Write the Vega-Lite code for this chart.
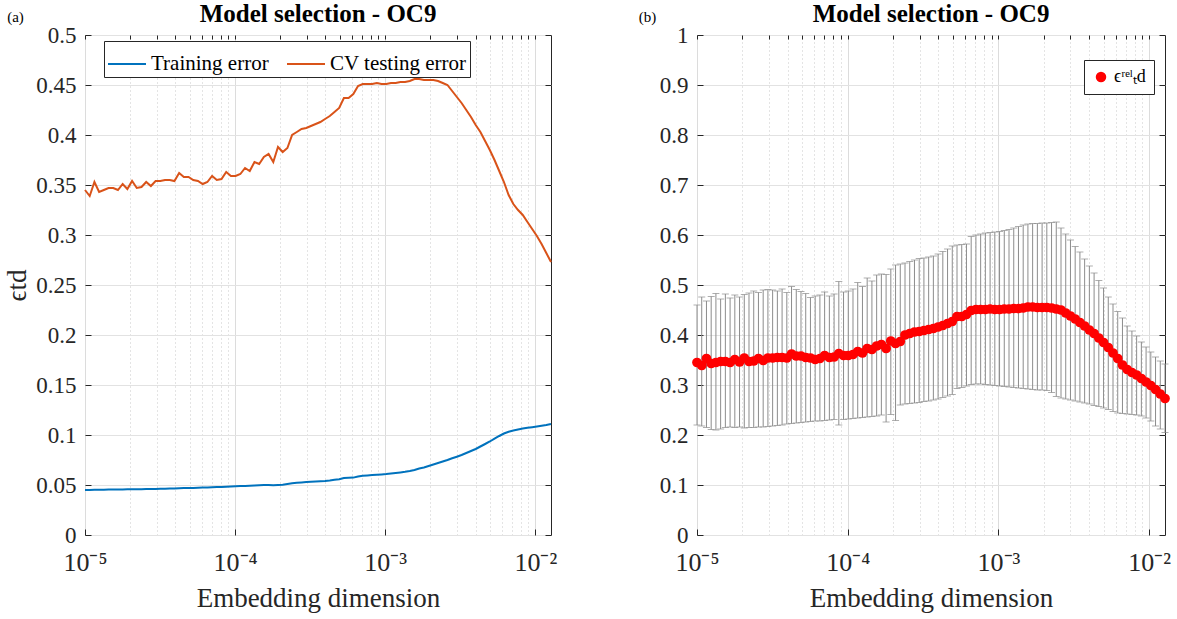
{
  "$schema": "https://vega.github.io/schema/vega-lite/v6.json",
  "padding": {"left": 3, "top": 1, "right": 5, "bottom": 2},
  "datasets": {
    "d": [
      {"x": 1.0000e-5, "train": 0.0450, "cv": 0.345, "lo": 0.220, "hi": 0.460},
      {"x": 1.0749e-5, "train": 0.0451, "cv": 0.339, "lo": 0.218, "hi": 0.476},
      {"x": 1.1554e-5, "train": 0.0452, "cv": 0.353, "lo": 0.215, "hi": 0.468},
      {"x": 1.2419e-5, "train": 0.0453, "cv": 0.343, "lo": 0.211, "hi": 0.477},
      {"x": 1.3349e-5, "train": 0.0453, "cv": 0.345, "lo": 0.210, "hi": 0.483},
      {"x": 1.4348e-5, "train": 0.0454, "cv": 0.347, "lo": 0.212, "hi": 0.472},
      {"x": 1.5423e-5, "train": 0.0455, "cv": 0.347, "lo": 0.215, "hi": 0.482},
      {"x": 1.6577e-5, "train": 0.0455, "cv": 0.345, "lo": 0.216, "hi": 0.474},
      {"x": 1.7818e-5, "train": 0.0456, "cv": 0.351, "lo": 0.215, "hi": 0.480},
      {"x": 1.9153e-5, "train": 0.0457, "cv": 0.346, "lo": 0.216, "hi": 0.476},
      {"x": 2.0587e-5, "train": 0.0457, "cv": 0.354, "lo": 0.214, "hi": 0.481},
      {"x": 2.2128e-5, "train": 0.0458, "cv": 0.347, "lo": 0.215, "hi": 0.484},
      {"x": 2.3785e-5, "train": 0.0458, "cv": 0.348, "lo": 0.215, "hi": 0.488},
      {"x": 2.5566e-5, "train": 0.0459, "cv": 0.353, "lo": 0.216, "hi": 0.485},
      {"x": 2.7480e-5, "train": 0.0460, "cv": 0.349, "lo": 0.216, "hi": 0.490},
      {"x": 2.9538e-5, "train": 0.0461, "cv": 0.354, "lo": 0.217, "hi": 0.491},
      {"x": 3.1750e-5, "train": 0.0462, "cv": 0.354, "lo": 0.218, "hi": 0.490},
      {"x": 3.4127e-5, "train": 0.0463, "cv": 0.355, "lo": 0.219, "hi": 0.488},
      {"x": 3.6682e-5, "train": 0.0465, "cv": 0.355, "lo": 0.220, "hi": 0.492},
      {"x": 3.9429e-5, "train": 0.0466, "cv": 0.354, "lo": 0.222, "hi": 0.485},
      {"x": 4.2381e-5, "train": 0.0467, "cv": 0.362, "lo": 0.223, "hi": 0.497},
      {"x": 4.5554e-5, "train": 0.0469, "cv": 0.358, "lo": 0.224, "hi": 0.491},
      {"x": 4.8965e-5, "train": 0.0470, "cv": 0.358, "lo": 0.225, "hi": 0.487},
      {"x": 5.2632e-5, "train": 0.0471, "cv": 0.355, "lo": 0.226, "hi": 0.483},
      {"x": 5.6573e-5, "train": 0.0473, "cv": 0.354, "lo": 0.227, "hi": 0.475},
      {"x": 6.0810e-5, "train": 0.0475, "cv": 0.351, "lo": 0.228, "hi": 0.478},
      {"x": 6.5363e-5, "train": 0.0476, "cv": 0.353, "lo": 0.228, "hi": 0.480},
      {"x": 7.0258e-5, "train": 0.0477, "cv": 0.359, "lo": 0.229, "hi": 0.486},
      {"x": 7.5519e-5, "train": 0.0479, "cv": 0.355, "lo": 0.230, "hi": 0.478},
      {"x": 8.1174e-5, "train": 0.0481, "cv": 0.356, "lo": 0.231, "hi": 0.482},
      {"x": 8.7253e-5, "train": 0.0483, "cv": 0.363, "lo": 0.220, "hi": 0.507},
      {"x": 9.3786e-5, "train": 0.0485, "cv": 0.359, "lo": 0.231, "hi": 0.486},
      {"x": 1.0081e-4, "train": 0.0487, "cv": 0.359, "lo": 0.232, "hi": 0.488},
      {"x": 1.0836e-4, "train": 0.0489, "cv": 0.361, "lo": 0.233, "hi": 0.492},
      {"x": 1.1648e-4, "train": 0.0491, "cv": 0.367, "lo": 0.234, "hi": 0.505},
      {"x": 1.2520e-4, "train": 0.0493, "cv": 0.364, "lo": 0.235, "hi": 0.497},
      {"x": 1.3458e-4, "train": 0.0495, "cv": 0.373, "lo": 0.236, "hi": 0.514},
      {"x": 1.4465e-4, "train": 0.0497, "cv": 0.371, "lo": 0.237, "hi": 0.508},
      {"x": 1.5549e-4, "train": 0.0499, "cv": 0.378, "lo": 0.238, "hi": 0.520},
      {"x": 1.6713e-4, "train": 0.0501, "cv": 0.381, "lo": 0.240, "hi": 0.522},
      {"x": 1.7965e-4, "train": 0.0497, "cv": 0.373, "lo": 0.226, "hi": 0.521},
      {"x": 1.9310e-4, "train": 0.0500, "cv": 0.388, "lo": 0.241, "hi": 0.532},
      {"x": 2.0756e-4, "train": 0.0503, "cv": 0.383, "lo": 0.229, "hi": 0.540},
      {"x": 2.2310e-4, "train": 0.0510, "cv": 0.387, "lo": 0.260, "hi": 0.542},
      {"x": 2.3981e-4, "train": 0.0518, "cv": 0.400, "lo": 0.262, "hi": 0.544},
      {"x": 2.5777e-4, "train": 0.0522, "cv": 0.403, "lo": 0.263, "hi": 0.547},
      {"x": 2.7707e-4, "train": 0.0526, "cv": 0.406, "lo": 0.264, "hi": 0.550},
      {"x": 2.9782e-4, "train": 0.0529, "cv": 0.407, "lo": 0.265, "hi": 0.553},
      {"x": 3.2012e-4, "train": 0.0532, "cv": 0.409, "lo": 0.267, "hi": 0.554},
      {"x": 3.4409e-4, "train": 0.0534, "cv": 0.411, "lo": 0.268, "hi": 0.556},
      {"x": 3.6983e-4, "train": 0.0537, "cv": 0.413, "lo": 0.270, "hi": 0.558},
      {"x": 3.9753e-4, "train": 0.0540, "cv": 0.416, "lo": 0.272, "hi": 0.562},
      {"x": 4.2730e-4, "train": 0.0545, "cv": 0.419, "lo": 0.275, "hi": 0.567},
      {"x": 4.5929e-4, "train": 0.0552, "cv": 0.423, "lo": 0.278, "hi": 0.572},
      {"x": 4.9369e-4, "train": 0.0558, "cv": 0.427, "lo": 0.281, "hi": 0.578},
      {"x": 5.3066e-4, "train": 0.0570, "cv": 0.437, "lo": 0.293, "hi": 0.580},
      {"x": 5.7039e-4, "train": 0.0572, "cv": 0.437, "lo": 0.295, "hi": 0.581},
      {"x": 6.1311e-4, "train": 0.0574, "cv": 0.441, "lo": 0.298, "hi": 0.582},
      {"x": 6.5902e-4, "train": 0.0585, "cv": 0.449, "lo": 0.301, "hi": 0.597},
      {"x": 7.0837e-4, "train": 0.0592, "cv": 0.451, "lo": 0.302, "hi": 0.600},
      {"x": 7.6143e-4, "train": 0.0596, "cv": 0.451, "lo": 0.302, "hi": 0.602},
      {"x": 8.1844e-4, "train": 0.0600, "cv": 0.451, "lo": 0.301, "hi": 0.604},
      {"x": 8.7973e-4, "train": 0.0603, "cv": 0.452, "lo": 0.300, "hi": 0.605},
      {"x": 9.4561e-4, "train": 0.0606, "cv": 0.451, "lo": 0.299, "hi": 0.606},
      {"x": 1.0164e-3, "train": 0.0610, "cv": 0.451, "lo": 0.298, "hi": 0.607},
      {"x": 1.0925e-3, "train": 0.0616, "cv": 0.452, "lo": 0.297, "hi": 0.609},
      {"x": 1.1743e-3, "train": 0.0621, "cv": 0.452, "lo": 0.296, "hi": 0.611},
      {"x": 1.2623e-3, "train": 0.0626, "cv": 0.453, "lo": 0.295, "hi": 0.614},
      {"x": 1.3568e-3, "train": 0.0632, "cv": 0.453, "lo": 0.294, "hi": 0.617},
      {"x": 1.4584e-3, "train": 0.0640, "cv": 0.454, "lo": 0.293, "hi": 0.620},
      {"x": 1.5675e-3, "train": 0.0650, "cv": 0.456, "lo": 0.292, "hi": 0.622},
      {"x": 1.6849e-3, "train": 0.0665, "cv": 0.456, "lo": 0.291, "hi": 0.623},
      {"x": 1.8111e-3, "train": 0.0675, "cv": 0.455, "lo": 0.290, "hi": 0.623},
      {"x": 1.9467e-3, "train": 0.0690, "cv": 0.455, "lo": 0.290, "hi": 0.624},
      {"x": 2.0925e-3, "train": 0.0705, "cv": 0.455, "lo": 0.289, "hi": 0.624},
      {"x": 2.2492e-3, "train": 0.0720, "cv": 0.454, "lo": 0.285, "hi": 0.625},
      {"x": 2.4176e-3, "train": 0.0735, "cv": 0.452, "lo": 0.277, "hi": 0.626},
      {"x": 2.5986e-3, "train": 0.0750, "cv": 0.450, "lo": 0.274, "hi": 0.614},
      {"x": 2.7932e-3, "train": 0.0767, "cv": 0.444, "lo": 0.272, "hi": 0.602},
      {"x": 3.0024e-3, "train": 0.0783, "cv": 0.438, "lo": 0.270, "hi": 0.590},
      {"x": 3.2271e-3, "train": 0.0800, "cv": 0.432, "lo": 0.268, "hi": 0.577},
      {"x": 3.4688e-3, "train": 0.0820, "cv": 0.425, "lo": 0.266, "hi": 0.566},
      {"x": 3.7285e-3, "train": 0.0840, "cv": 0.418, "lo": 0.264, "hi": 0.552},
      {"x": 4.0077e-3, "train": 0.0860, "cv": 0.410, "lo": 0.262, "hi": 0.538},
      {"x": 4.3078e-3, "train": 0.0885, "cv": 0.403, "lo": 0.259, "hi": 0.524},
      {"x": 4.6304e-3, "train": 0.0910, "cv": 0.394, "lo": 0.257, "hi": 0.509},
      {"x": 4.9771e-3, "train": 0.0935, "cv": 0.385, "lo": 0.254, "hi": 0.494},
      {"x": 5.3498e-3, "train": 0.0963, "cv": 0.375, "lo": 0.251, "hi": 0.476},
      {"x": 5.7504e-3, "train": 0.0990, "cv": 0.364, "lo": 0.247, "hi": 0.462},
      {"x": 6.1810e-3, "train": 0.1015, "cv": 0.353, "lo": 0.244, "hi": 0.447},
      {"x": 6.6432e-3, "train": 0.1033, "cv": 0.340, "lo": 0.243, "hi": 0.434},
      {"x": 7.1407e-3, "train": 0.1045, "cv": 0.331, "lo": 0.242, "hi": 0.418},
      {"x": 7.6754e-3, "train": 0.1055, "cv": 0.325, "lo": 0.241, "hi": 0.408},
      {"x": 8.2502e-3, "train": 0.1065, "cv": 0.320, "lo": 0.240, "hi": 0.398},
      {"x": 8.8680e-3, "train": 0.1072, "cv": 0.313, "lo": 0.238, "hi": 0.386},
      {"x": 9.5320e-3, "train": 0.1078, "cv": 0.306, "lo": 0.234, "hi": 0.376},
      {"x": 1.0246e-2, "train": 0.1085, "cv": 0.299, "lo": 0.228, "hi": 0.366},
      {"x": 1.1013e-2, "train": 0.1093, "cv": 0.291, "lo": 0.218, "hi": 0.356},
      {"x": 1.1838e-2, "train": 0.1100, "cv": 0.282, "lo": 0.212, "hi": 0.348},
      {"x": 1.2724e-2, "train": 0.1110, "cv": 0.273, "lo": 0.205, "hi": 0.342}
    ]
  },
  "config": {
    "font": "Liberation Serif",
    "view": {"stroke": "#262626", "strokeWidth": 1},
    "axis": {
      "labelFont": "Liberation Serif",
      "titleFont": "Liberation Serif",
      "labelColor": "#262626",
      "titleColor": "#262626",
      "tickColor": "#262626",
      "domain": false,
      "labelFontSize": 23,
      "titleFontSize": 27,
      "titleFontWeight": "normal",
      "gridColor": "#e2e2e2",
      "gridWidth": 1
    },
    "title": {"font": "Liberation Serif", "fontSize": 25, "fontWeight": "bold", "color": "#000000", "offset": -18},
    "legend": {"labelFont": "Liberation Serif", "labelColor": "#000000"}
  },
  "spacing": 146,
  "bounds": "flush",
  "resolve": {"scale": {"color": "independent"}, "legend": {"color": "independent"}},
  "hconcat": [
    {
      "width": 466,
      "height": 500,
      "title": "Model selection - OC9",
      "data": {"name": "d"},
      "layer": [
        {
          "mark": {"type": "line", "opacity": 0},
          "encoding": {
            "x": {
              "field": "x", "type": "quantitative",
              "scale": {"type": "log", "domain": [0.00001, 0.012724], "nice": false},
              "axis": {
                "orient": "top", "title": null, "labels": false,
                "values": [0.00001, 0.00002, 0.00003, 0.00004, 0.00005, 0.00006, 0.00007, 0.00008, 0.00009, 0.0001, 0.0002, 0.0003, 0.0004, 0.0005, 0.0006, 0.0007, 0.0008, 0.0009, 0.001, 0.002, 0.003, 0.004, 0.005, 0.006, 0.007, 0.008, 0.009, 0.01],
                "tickSize": -4, "grid": true, "gridDash": [1, 3], "gridColor": "#c8c8c8"
              }
            },
            "y": {
              "field": "cv", "type": "quantitative",
              "scale": {"domain": [0, 0.5], "nice": false},
              "axis": {
                "orient": "right", "labels": false, "grid": false, "tickSize": -6,
                "values": [0, 0.05, 0.1, 0.15, 0.2, 0.25, 0.3, 0.35, 0.4, 0.45, 0.5],
                "title": "(a)", "titleAngle": 0, "titleX": -536, "titleY": -19,
                "titleFontSize": 15, "titleAlign": "center", "titleBaseline": "middle", "titleColor": "#000000"
              }
            }
          }
        },
        {
          "transform": [{"fold": ["train", "cv"], "as": ["series", "value"]}],
          "mark": {"type": "line", "strokeWidth": 2},
          "encoding": {
            "x": {
              "field": "x", "type": "quantitative",
              "scale": {"type": "log", "domain": [0.00001, 0.012724], "nice": false},
              "axis": {
                "orient": "bottom", "title": "Embedding dimension",
                "values": [0.00001, 0.0001, 0.001, 0.01],
                "labelExpr": "datum.value < 0.00002 ? '10⁻⁵' : datum.value < 0.0002 ? '10⁻⁴' : datum.value < 0.002 ? '10⁻³' : '10⁻²'",
                "labelFlush": false, "labelFontSize": 26,
                "tickSize": -6, "labelPadding": 20, "titlePadding": 10, "grid": true, "gridColor": "#dcdcdc"
              }
            },
            "y": {
              "field": "value", "type": "quantitative",
              "scale": {"domain": [0, 0.5], "nice": false},
              "axis": {
                "orient": "left", "title": "ϵtd",
                "values": [0, 0.05, 0.1, 0.15, 0.2, 0.25, 0.3, 0.35, 0.4, 0.45, 0.5],
                "format": "~g", "tickSize": -6, "labelPadding": 15, "titlePadding": 4, "grid": true
              }
            },
            "color": {
              "field": "series", "type": "nominal",
              "scale": {"domain": ["train", "cv"], "range": ["#0072BD", "#D95319"]},
              "legend": {
                "orient": "none", "legendX": 19, "legendY": 6, "direction": "horizontal",
                "title": null, "symbolType": "stroke", "symbolSize": 1444, "symbolStrokeWidth": 2,
                "labelFontSize": 21, "labelOffset": 4, "columnPadding": 14,
                "labelExpr": "datum.value == 'train' ? 'Training error' : 'CV testing error'",
                "strokeColor": "#262626", "fillColor": "#ffffff", "padding": 3
              }
            }
          }
        }
      ],
      "resolve": {"axis": {"x": "independent", "y": "independent"}}
    },
    {
      "width": 468,
      "height": 500,
      "title": "Model selection - OC9",
      "data": {"name": "d"},
      "layer": [
        {
          "mark": {"type": "rule", "color": "#8c8c8c", "strokeWidth": 1},
          "encoding": {
            "x": {
              "field": "x", "type": "quantitative",
              "scale": {"type": "log", "domain": [0.00001, 0.012724], "nice": false},
              "axis": {
                "orient": "top", "title": null, "labels": false,
                "values": [0.00001, 0.00002, 0.00003, 0.00004, 0.00005, 0.00006, 0.00007, 0.00008, 0.00009, 0.0001, 0.0002, 0.0003, 0.0004, 0.0005, 0.0006, 0.0007, 0.0008, 0.0009, 0.001, 0.002, 0.003, 0.004, 0.005, 0.006, 0.007, 0.008, 0.009, 0.01],
                "tickSize": -4, "grid": true, "gridDash": [1, 3], "gridColor": "#c8c8c8"
              }
            },
            "y": {
              "field": "lo", "type": "quantitative",
              "scale": {"domain": [0, 1], "nice": false},
              "axis": {
                "orient": "right", "labels": false, "grid": false, "tickSize": -6,
                "values": [0, 0.1, 0.2, 0.3, 0.4, 0.5, 0.6, 0.7, 0.8, 0.9, 1],
                "title": "(b)", "titleAngle": 0, "titleX": -518, "titleY": -19,
                "titleFontSize": 15, "titleAlign": "center", "titleBaseline": "middle", "titleColor": "#000000"
              }
            },
            "y2": {"field": "hi"}
          }
        },
        {
          "mark": {"type": "tick", "orient": "horizontal", "color": "#8c8c8c", "size": 7, "thickness": 1},
          "encoding": {
            "x": {"field": "x", "type": "quantitative", "axis": null},
            "y": {"field": "lo", "type": "quantitative", "axis": null}
          }
        },
        {
          "mark": {"type": "tick", "orient": "horizontal", "color": "#8c8c8c", "size": 7, "thickness": 1},
          "encoding": {
            "x": {"field": "x", "type": "quantitative", "axis": null},
            "y": {"field": "hi", "type": "quantitative", "axis": null}
          }
        },
        {
          "mark": {"type": "point", "filled": true, "opacity": 1, "size": 95, "shape": "circle"},
          "encoding": {
            "x": {
              "field": "x", "type": "quantitative",
              "axis": {
                "orient": "bottom", "title": "Embedding dimension",
                "values": [0.00001, 0.0001, 0.001, 0.01],
                "labelExpr": "datum.value < 0.00002 ? '10⁻⁵' : datum.value < 0.0002 ? '10⁻⁴' : datum.value < 0.002 ? '10⁻³' : '10⁻²'",
                "labelFlush": false, "labelFontSize": 26,
                "tickSize": -6, "labelPadding": 20, "titlePadding": 10, "grid": true, "gridColor": "#dcdcdc"
              }
            },
            "y": {
              "field": "cv", "type": "quantitative",
              "axis": {
                "orient": "left", "title": null,
                "values": [0, 0.1, 0.2, 0.3, 0.4, 0.5, 0.6, 0.7, 0.8, 0.9, 1],
                "format": "~g", "tickSize": -6, "labelPadding": 15, "grid": true
              }
            },
            "color": {
              "datum": "rel", "type": "nominal",
              "scale": {"domain": ["rel"], "range": ["#ff0000"]},
              "legend": {
                "orient": "none", "legendX": 387, "legendY": 25,
                "title": null, "symbolType": "circle", "symbolSize": 110,
                "labelFontSize": 18, "labelExpr": "'ϵʳᵉˡₜd'",
                "strokeColor": "#262626", "fillColor": "#ffffff", "padding": 8
              }
            }
          }
        }
      ],
      "resolve": {"axis": {"x": "independent", "y": "independent"}}
    }
  ]
}
